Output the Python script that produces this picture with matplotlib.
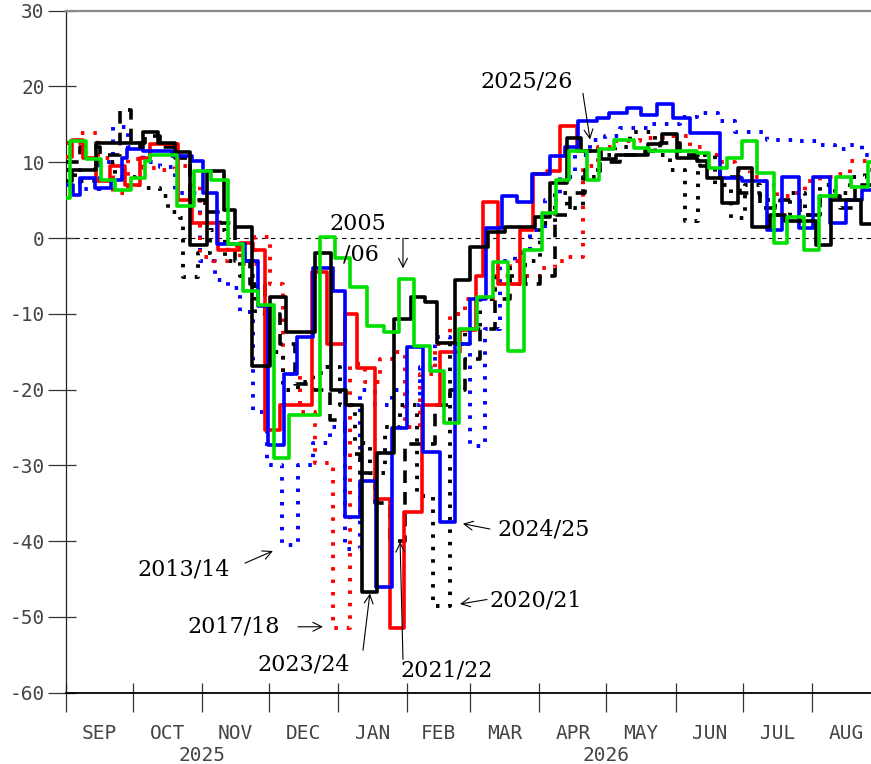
import matplotlib
matplotlib.use("Agg")
import matplotlib.pyplot as plt
from matplotlib.transforms import blended_transform_factory

# ---------------- data (day 0 = 1 Sep, weekly step values) ----------------
months = ["SEP", "OCT", "NOV", "DEC", "JAN", "FEB", "MAR", "APR", "MAY", "JUN", "JUL", "AUG"]
month_start = [0, 30, 61, 91, 122, 153, 181, 212, 242, 273, 303, 334, 365]
years = ["2025", "2026"]
year_pos = [61, 242]
yticks = [30, 20, 10, 0, -10, -20, -30, -40, -50, -60]

green_0506_d = [0, 2.0, 9.2, 15.9, 22.1, 29.1, 35.6, 37.8, 49.9, 57.5, 64.9, 72.5, 79.4, 86.1, 93.1,
                99.8, 113.9, 120.6, 127.3, 135.1, 142.5, 149.2, 155.9, 163.1, 169.4, 176.1, 184.1,
                191.3, 198.0, 205.1, 213.2, 219.5, 225.3, 233.2, 238.7, 245.4, 254.4, 261.1, 282.6,
                287.9, 296.0, 302.9, 309.6, 317.0, 323.0, 330.4, 337.1, 344.7, 351.5, 359.1]
green_0506_v = [5.3, 12.8, 10.4, 7.7, 6.4, 7.9, 10.1, 10.9, 4.2, 8.8, 7.7, -0.8, -7.0, -8.8, -29.0,
                -23.3, 0.2, -2.7, -6.5, -11.6, -12.4, -5.4, -14.3, -17.5, -24.4, -12.0, -7.8,
                -3.1, -14.9, -1.6, 3.3, 7.7, 11.5, 7.7, 11.7, 13.0, 11.9, 11.5, 11.2,
                9.3, 10.6, 12.8, 8.6, -0.7, 2.8, -1.6, 5.5, 8.1, 6.8, 10.0]

black_2324_d = [0, 2.9, 13.6, 33.3, 34.7, 41.4, 49.0, 55.7, 63.3, 70.9, 75.9, 83.4, 91.5, 98.7,
                111.6, 118.8, 125.5, 132.7, 139.4, 147.0, 154.6, 160.8, 166.2, 174.3, 181.0,
                189.0, 196.6, 210.1, 216.8, 224.4, 230.6, 239.6, 246.3, 260.6, 266.9, 273.6,
                282.5, 287.0, 293.7, 300.9, 307.2, 315.2, 321.9, 335.8, 342.5, 355.9]
black_2324_v = [7.5, 9.0, 12.6, 12.0, 14.0, 12.6, 11.4, -0.9, 8.8, 3.7, 1.5, -16.9, -7.8, -12.4,
                -2.0, -20.0, -22.0, -46.7, -28.4, -10.7, -7.8, -8.5, -13.8, -5.6, -1.2,
                0.8, 1.5, 2.8, 7.3, 13.2, 11.5, 10.4, 11.0, 12.4, 13.7, 10.6,
                10.1, 7.9, 4.6, 9.3, 1.5, 3.0, 2.2, -0.9, 5.0, 1.9]

red_2526_d = [0, 2.9, 7.8, 13.6, 19.9, 26.6, 33.3, 37.8, 50.3, 56.6, 68.2, 78.1, 83.9, 89.3, 96.0,
              110.3, 117.0, 125.1, 130.4, 138.5, 145.2, 151.5, 159.5, 167.6, 176.5, 183.7, 186.8,
              193.5, 203.4, 209.2, 215.4, 221.3, 228.9]
red_2526_v = [10.7, 13.0, 10.5, 7.5, 9.5, 7.0, 10.5, 12.4, 5.0, 2.0, -1.6, -0.7, -1.6, -25.3, -22.0,
              -4.5, -14.0, -10.0, -17.1, -34.4, -51.4, -36.1, -22.0, -15.0, -12.2, -5.0, 4.8,
              -6.0, 1.0, 8.4, 8.8, 14.8, 11.5]
red_2526_last_day = 234.7

blue_2425_d = [0, 3.4, 6.5, 13.2, 20.4, 25.3, 27.5, 34.7, 47.7, 56.6, 61.5, 67.8, 80.3, 86.1, 90.6,
               97.8, 103.6, 110.7, 119.7, 125.1, 131.8, 138.9, 146.1, 152.8, 160.0, 167.6, 174.3,
               181.0, 188.1, 195.3, 202.0, 208.7, 216.8, 223.5, 229.3, 237.8, 243.2, 251.2, 257.5,
               264.6, 271.8, 279.4, 292.8, 302.7, 313.8, 320.6, 328.2, 334.5, 342.1, 349.2, 356.4]
blue_2425_v = [7.0, 5.7, 7.9, 6.6, 7.7, 10.6, 11.7, 11.5, 10.8, 10.1, 5.9, -0.8, -3.0, -9.0, -27.3,
               -18.0, -13.1, -4.0, -7.0, -36.8, -32.1, -46.1, -25.1, -14.4, -28.2, -37.5, -14.0,
               -8.0, 1.3, 5.5, 4.8, 8.4, 10.8, 12.0, 15.4, 15.9, 16.5, 17.2, 16.3,
               17.7, 15.9, 13.9, 7.9, 7.5, 1.1, 8.1, 1.3, 8.1, 2.0, 5.0, 6.4]

black_2021_d = [0, 4.3, 13.2, 22.1, 31.1, 35.6, 42.3, 45.9, 51.2, 52.6, 59.3, 64.7, 71.4, 78.1, 84.8,
                90.6, 97.3, 104.0, 110.7, 116.1, 122.8, 129.5, 136.2, 143.0, 149.7, 157.3, 164.4,
                172.0, 178.7, 185.4, 192.2, 198.9, 205.6, 212.3, 219.0, 224.4, 231.5, 239.2, 245.9,
                252.6, 263.8, 270.5, 277.1, 283.0, 290.6, 297.8, 304.1, 310.7, 317.4, 324.2, 330.9,
                337.5, 344.3, 351.0, 357.7]
black_2021_v = [9.0, 7.5, 10.0, 8.0, 7.0, 6.6, 5.5, 3.5, 2.7, -5.2, -2.0, 1.0, -3.0, -5.0, -10.0,
                -15.0, -20.0, -19.0, -17.8, -17.0, -22.0, -27.0, -31.0, -25.0, -22.0, -34.0, -48.5,
                -14.0, -12.0, -8.0, -4.0, -6.0, -3.0, 2.0, 6.0, 4.0, 8.0, 11.0, 12.0,
                14.0, 11.0, 9.0, 2.2, 11.0, 7.0, 2.6, 7.0, 5.0, 3.0, 6.0, 3.0,
                7.0, 6.0, 8.0, 9.0]

red_1718_d = [0, 6.5, 14.5, 21.3, 28.0, 34.7, 42.3, 49.0, 55.7, 60.2, 66.0, 72.7, 78.1, 84.8, 91.5,
              97.3, 104.9, 111.6, 119.7, 127.3, 134.0, 140.7, 147.4, 151.9, 158.6, 165.3, 172.0,
              178.7, 192.2, 198.9, 205.6, 212.3, 219.0, 224.9, 231.5, 238.3, 245.0, 257.0, 270.5,
              279.4, 286.1, 292.8, 299.6, 306.3, 313.0, 318.3, 325.1, 330.9, 337.5, 344.3, 351.0]
red_1718_v = [12.5, 13.9, 10.5, 6.0, 10.4, 9.3, 9.0, 9.5, 7.0, -2.5, -3.0, -1.0, -3.4, 0.1, -6.0,
              -18.0, -23.0, -29.7, -51.4, -16.6, -19.0, -16.0, -15.0, -25.0, -18.0, -14.0, -10.0,
              -8.0, -5.0, -3.0, -5.0, -4.0, -3.0, -2.5, 9.5, 12.0, 12.8, 13.2, 13.4,
              12.0, 11.0, 10.0, 9.0, 8.0, 7.0, 5.5, 6.0, 7.5, 8.0, 8.4, 10.2]

blue_1314_d = [0, 6.5, 15.4, 21.3, 28.0, 34.7, 42.3, 49.0, 60.2, 66.9, 72.7, 78.1, 83.9, 90.2, 96.9,
               104.0, 110.7, 118.3, 125.1, 131.8, 138.5, 146.1, 152.8, 158.6, 165.3, 172.0, 181.0,
               187.7, 194.4, 201.1, 207.8, 214.5, 221.3, 228.0, 234.7, 241.4, 248.1, 261.5, 274.9,
               282.5, 291.9, 299.6, 313.8, 328.6, 337.5, 344.3, 351.0, 356.4]
blue_1314_v = [9.0, 6.5, 10.0, 14.7, 12.0, 10.0, 9.4, 6.0, -3.0, -5.5, -6.6, -9.7, -23.0, -30.0, -40.5,
               -30.0, -27.0, -25.0, -41.0, -20.0, -22.0, -20.0, -22.0, -17.0, -13.0, -14.0, -27.5,
               -12.0, -3.0, -2.0, 1.0, 5.0, 8.0, 11.0, 13.0, 13.5, 14.5, 15.0, 16.0,
               16.5, 15.5, 14.0, 13.0, 12.8, 12.3, 11.8, 12.3, 11.0]

black_2122_d = [0, 6.5, 15.4, 24.4, 29.3, 35.6, 42.3, 49.0, 55.7, 62.4, 69.1, 75.9, 82.6, 89.3, 96.0,
                102.7, 110.7, 118.3, 125.1, 131.8, 138.5, 145.2, 151.9, 165.3, 172.0, 178.7, 185.4,
                192.2, 198.9, 205.6, 212.3, 219.0, 225.7, 232.4, 239.2, 248.1, 259.2, 266.0, 274.9,
                283.9, 292.8, 301.8, 310.7, 319.7, 328.6, 337.5, 346.5, 353.3]
black_2122_v = [10.0, 12.0, 11.0, 16.9, 12.5, 13.5, 12.0, 10.5, 5.0, 3.5, 2.0, -3.0, -6.0, -10.0, -14.0,
                -19.3, -20.0, -24.0, -28.5, -31.0, -35.0, -40.0, -27.2, -22.0, -20.0, -16.0, -12.0,
                -8.0, -5.0, -6.0, -5.0, 3.0, 6.0, 9.0, 10.0, 11.0, 11.5, 12.5, 11.0,
                9.5, 8.0, 6.0, 4.0, 5.0, 3.0, 5.5, 4.0, 7.0]

# ---------------- figure ----------------
W, H = 871, 764
fig = plt.figure(figsize=(W / 100, H / 100), dpi=100)
X0, PPD = 65.5, 2.235
TOP, BOT = 10.7, 692.7
ax = fig.add_axes([X0 / W, 1 - BOT / H, 365 * PPD / W, (BOT - TOP) / H])
ax.set_xlim(0, 365)
ax.set_ylim(-60, 30)

RED, BLUE, GREEN = "#ff0000", "#0000ff", "#00e000"


def steps(d, v, end=365, **kw):
    ax.plot(list(d) + [end], list(v) + [v[-1]], drawstyle="steps-post", **kw)


dot = dict(lw=2.8, linestyle=(0, (0.9, 2.3)), dash_capstyle="butt")
steps(blue_1314_d, blue_1314_v, color=BLUE, zorder=2, **dot)
steps(red_1718_d, red_1718_v, color=RED, zorder=2, **dot)
steps(black_2021_d, black_2021_v, color="black", zorder=2, **dot)
steps(black_2122_d, black_2122_v, color="black", lw=2.6, linestyle=(0, (3.5, 2.5)), zorder=3)
steps(red_2526_d, red_2526_v, end=red_2526_last_day, color=RED, lw=2.6, zorder=4)
steps(blue_2425_d, blue_2425_v, color=BLUE, lw=2.6, zorder=4)
steps(black_2324_d, black_2324_v, color="black", lw=2.6, zorder=5)
steps(green_0506_d, green_0506_v, color=GREEN, lw=2.6, zorder=6)

# zero line
ax.axhline(0, color="black", lw=0.8, linestyle=(0, (4, 4)), zorder=1)

# spines / ticks
ax.spines["right"].set_visible(False)
ax.spines["top"].set_color("#8a8a8a")
ax.spines["top"].set_linewidth(1.6)
ax.spines["left"].set_color("#222222")
ax.spines["left"].set_linewidth(0.9)
ax.spines["bottom"].set_color("black")
ax.spines["bottom"].set_linewidth(1.3)

lab_font = dict(family="DejaVu Sans Mono", size=14, color="#444444")
ax.xaxis.remove_overlapping_locs = False
ax.yaxis.remove_overlapping_locs = False
ax.set_yticks(yticks)
ax.set_yticks(yticks, minor=True)
ax.set_yticklabels([str(t) for t in yticks], **lab_font)
ax.tick_params(axis="y", which="major", direction="out", length=13, width=0.9, color="#333333", pad=2)
ax.tick_params(axis="y", which="minor", direction="in", length=7.5, width=0.9, color="#333333")
ax.set_xticks(month_start[:-1])
ax.set_xticks(month_start[:-1], minor=True)
ax.set_xticklabels([])
ax.tick_params(axis="x", which="major", direction="out", length=14, width=0.9, color="#333333")
ax.tick_params(axis="x", which="minor", direction="in", length=7.5, width=0.9, color="#333333")

tr = blended_transform_factory(ax.transData, ax.transAxes)
for i, m in enumerate(months):
    mid = (month_start[i] + month_start[i + 1]) / 2
    ax.text(mid, -0.0595, m, transform=tr, ha="center", va="center", clip_on=False, **lab_font)
for y, p in zip(years, year_pos):
    ax.text(p, -0.0915, y, transform=tr, ha="center", va="center", clip_on=False, **lab_font)

# annotations
ann_font = dict(family="DejaVu Serif", size=16, color="black")
arw = dict(arrowstyle="->", lw=0.8, color="black", mutation_scale=16, shrinkA=0, shrinkB=0)


def label(text, x, y):
    ax.text(x, y, text, ha="left", va="center", zorder=10, **ann_font)


def arrow(x1, y1, x2, y2):
    ax.annotate("", xy=(x2, y2), xytext=(x1, y1), arrowprops=arw, zorder=10)


label("2005", 118.3, 1.9)
label("/06", 124.2, -2.2)
arrow(151.0, 0.0, 151.0, -4.0)
label("2025/26", 185.5, 20.6)
arrow(231.5, 19.1, 234.7, 13.0)
label("2013/14", 32.4, -43.7)
arrow(80.3, -42.9, 92.8, -41.3)
label("2017/18", 54.4, -51.3)
arrow(104.0, -51.3, 115.2, -51.3)
label("2023/24", 85.7, -56.3)
arrow(133.1, -54.4, 136.2, -46.9)
label("2021/22", 149.7, -57.1)
arrow(151.0, -55.6, 149.7, -40.1)
label("2024/25", 193.1, -38.5)
arrow(189.9, -38.4, 177.8, -37.7)
label("2020/21", 189.9, -47.8)
arrow(188.6, -47.7, 176.5, -48.3)

fig.savefig("out.png", dpi=100)
